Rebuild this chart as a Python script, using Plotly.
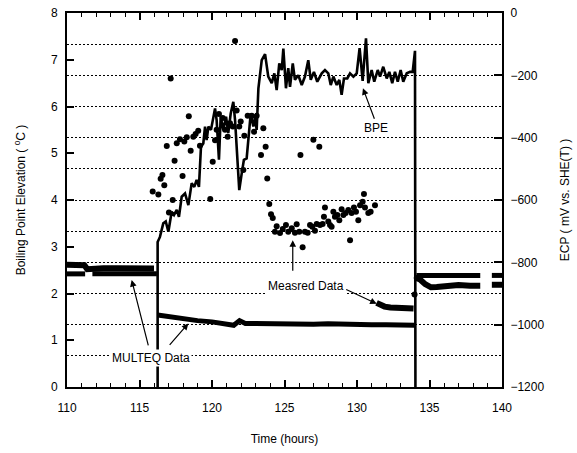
import plotly.graph_objects as go

# ---------------- data ----------------
# Boiling point elevation (deg C, left axis)
bpe_time = [116.25, 116.25, 116.41, 116.64, 116.81, 116.99, 117.22, 117.38, 117.57, 117.72,
            117.91, 118.14, 118.37, 118.60, 118.78, 118.94, 119.10, 119.24, 119.40, 119.52,
            119.63, 119.75, 119.93, 120.09, 120.21, 120.32, 120.48, 120.60, 120.78, 120.97,
            121.12, 121.29, 121.47, 121.59, 121.70, 121.88, 122.05, 122.20, 122.39, 122.50,
            122.67, 122.85, 122.97, 123.08, 123.20, 123.43, 123.66, 123.88, 124.12, 124.30,
            124.46, 124.64, 124.81, 124.92, 125.10, 125.26, 125.38, 125.57, 125.72, 125.95,
            126.19, 126.41, 126.64, 126.81, 127.03, 127.26, 127.57, 127.79, 128.02, 128.19,
            128.37, 128.60, 128.78, 128.94, 129.10, 129.33, 129.52, 129.75, 129.98, 130.18,
            130.39, 130.62, 130.78, 131.01, 131.19, 131.43, 131.59, 131.81, 132.05, 132.23,
            132.43, 132.62, 132.81, 133.01, 133.19, 133.43, 133.66, 133.84, 134.00, 134.03]
bpe_value = [0.00, 3.10, 3.21, 3.50, 3.54, 3.32, 3.75, 3.68, 3.79, 3.64,
             4.07, 4.14, 3.89, 4.36, 4.28, 4.43, 4.28, 5.14, 5.21, 5.57,
             5.28, 5.57, 5.50, 5.75, 5.96, 5.71, 4.86, 5.78, 5.50, 5.78,
             5.43, 5.85, 6.10, 5.71, 5.07, 4.21, 4.57, 4.86, 4.89, 5.35,
             5.85, 5.57, 5.78, 5.50, 6.39, 6.99, 7.12, 6.64, 6.50, 6.71,
             6.35, 6.92, 6.78, 7.24, 6.39, 6.82, 6.42, 6.92, 6.57, 6.67,
             6.46, 6.64, 6.99, 6.57, 6.74, 6.53, 6.71, 6.78, 6.71, 6.46,
             6.64, 6.46, 6.57, 6.25, 6.60, 6.60, 6.71, 6.64, 6.71, 7.25,
             6.55, 7.46, 6.50, 6.78, 6.53, 6.78, 6.64, 6.85, 6.60, 6.74,
             6.50, 6.74, 6.53, 6.78, 6.53, 6.71, 6.74, 6.74, 7.19, 0.00]

# Measured ECP (mV vs. SHE(T), right axis) - individual readings
meas_time = [115.91, 116.30, 116.46, 116.58, 116.71, 116.88, 117.03, 117.15, 117.29, 117.42,
             117.57, 117.79, 117.97, 118.09, 118.26, 118.40, 118.53, 118.71, 118.87, 119.05,
             119.17, 119.88, 120.05, 120.21, 120.32, 120.48, 120.74, 120.90, 121.08, 121.24,
             121.43, 121.59, 121.70, 121.88, 121.98, 122.16, 122.23, 122.46, 122.74, 122.90,
             123.08, 123.38, 123.54, 123.70, 123.81, 123.95, 124.07, 124.19, 124.34, 124.46,
             124.69, 124.88, 125.10, 125.26, 125.50, 125.72, 125.84, 126.02, 126.10, 126.25,
             126.41, 126.60, 126.76, 126.92, 126.99, 127.10, 127.22, 127.40, 127.45, 127.63,
             127.72, 127.79, 128.02, 128.14, 128.25, 128.37, 128.48, 128.64, 128.78, 128.94,
             129.06, 129.22, 129.40, 129.52, 129.63, 129.79, 129.93, 130.09, 130.21, 130.39,
             130.48, 130.55, 130.78, 130.94, 131.24, 133.97, 134.12]
meas_ecp = [-573, -582, -532, -520, -553, -427, -640, -210, -600, -474,
            -418, -405, -523, -412, -399, -331, -442, -397, -388, -378,
            -426, -597, -477, -408, -375, -324, -337, -375, -397, -354,
            -364, -90, -313, -364, -348, -504, -394, -330, -330, -381,
            -330, -456, -370, -429, -531, -613, -646, -658, -702, -684,
            -706, -693, -680, -702, -691, -705, -678, -702, -456, -752,
            -702, -705, -680, -686, -407, -699, -677, -429, -680, -677,
            -654, -624, -669, -680, -686, -638, -654, -648, -665, -630,
            -648, -642, -632, -729, -642, -624, -638, -665, -617, -606,
            -581, -624, -642, -638, -617, -903, -850]

# Measured ECP - continuously logged stretches
meas_run_time = [110.0, 110.6, 111.2, 111.4, 111.7, 112.5, 113.5, 114.5, 115.5, 116.0, None,
                 131.35, 131.6, 131.9, 132.3, 132.8, 133.4, 133.9, None,
                 134.1, 134.35, 134.7, 135.1, 135.5, 136.2, 137.0, 137.8, 138.5, None,
                 139.3, 140.0]
meas_run_ecp = [-808, -808, -809, -822, -820, -819, -819, -820, -820, -820, None,
                -930, -936, -942, -945, -947, -948, -948, None,
                -850, -855, -870, -880, -879, -875, -873, -875, -875, None,
                -872, -872]

# MULTEQ calculated ECP (mV vs. SHE(T))
multeq_time = [110.0, 111.25, None, 111.75, 113.0, 114.5, 116.2, None,
               116.25, 117.0, 118.0, 119.0, 120.0, 121.0, 121.5, 121.9, 122.3, 123.0,
               124.0, 125.0, 126.0, 127.0, 128.0, 129.0, 130.0, 131.0, 132.0, 133.0, 134.0, None,
               134.1, 135.0, 136.5, 138.5, None, 139.3, 140.0]
multeq_ecp = [-837, -837, None, -837, -836, -837, -837, None,
              -969, -975, -981, -987, -991, -996, -1002, -987, -996, -996,
              -997, -1000, -999, -999, -997, -999, -1000, -1000, -1000, -1002, -1002, None,
              -842, -842, -842, -842, None, -842, -842]

FONT = "Liberation Sans, Arial, sans-serif"
INK = "black"

fig = go.Figure()

fig.add_trace(go.Scatter(x=multeq_time, y=multeq_ecp, yaxis="y2", mode="lines",
                         line=dict(color=INK, width=5), name="MULTEQ", connectgaps=False))
fig.add_trace(go.Scatter(x=meas_run_time, y=meas_run_ecp, yaxis="y2", mode="lines",
                         line=dict(color=INK, width=6), name="Measured (logged)", connectgaps=False))
fig.add_trace(go.Scatter(x=meas_time, y=meas_ecp, yaxis="y2", mode="markers",
                         marker=dict(color=INK, size=6, symbol="circle"), name="Measured"))
fig.add_trace(go.Scatter(x=bpe_time, y=bpe_value, yaxis="y", mode="lines",
                         line=dict(color=INK, width=2.6), name="BPE"))

# ---------------- annotations ----------------
arrow = dict(showarrow=True, arrowhead=2, arrowsize=1.1, arrowwidth=1.2,
             arrowcolor=INK, text="", xref="x", yref="y")
notes = [
    dict(x=130.41, y=6.39, ax=12, ay=32, **arrow),
    dict(x=125.57, y=3.14, ax=0, ay=32, **arrow),
    dict(x=131.36, y=1.78, ax=-32, ay=-15, **arrow),
    dict(x=114.46, y=2.29, ax=17, ay=67, **arrow),
    dict(x=118.37, y=1.36, ax=-20, ay=23, **arrow),
]
label = dict(showarrow=False, xref="x", yref="y", bgcolor="white",
             font=dict(family=FONT, size=12, color=INK), borderpad=1)
notes += [
    dict(x=131.31, y=5.54, text="BPE", **label),
    dict(x=126.48, y=2.16, text="Measred Data", **label),
    dict(x=115.77, y=0.63, text="MULTEQ Data", **label),
]

dot_dash = "2px,2px"

fig.update_layout(
    width=577, height=453,
    margin=dict(l=67, r=75, t=13, b=66),
    paper_bgcolor="white", plot_bgcolor="white",
    showlegend=False,
    font=dict(family=FONT, size=12, color=INK),
    annotations=notes,
    xaxis=dict(
        range=[110, 140], dtick=5, tick0=110,
        ticks="inside", ticklen=7, tickwidth=1.5, tickcolor=INK,
        minor=dict(dtick=1, ticks="inside", ticklen=4, tickwidth=1, tickcolor=INK),
        showline=True, linewidth=2, linecolor=INK, mirror="ticks",
        showgrid=False, zeroline=False, ticklabelstandoff=9, automargin=False,
        title=dict(text="Time (hours)", standoff=20, font=dict(size=12)),
        tickfont=dict(size=12),
    ),
    yaxis=dict(
        range=[0, 8], dtick=1,
        ticks="inside", ticklen=7, tickwidth=1.5, tickcolor=INK,
        showline=True, linewidth=2, linecolor=INK,
        showgrid=False, zeroline=False, ticklabelstandoff=5, automargin=False,
        title=dict(text="Boiling Point Elevation ( <sup>o</sup>C )", standoff=23, font=dict(size=12)),
        tickfont=dict(size=12),
    ),
    yaxis2=dict(
        range=[-1200, 0], dtick=200, overlaying="y", side="right",
        ticks="inside", ticklen=8, tickwidth=1.5, tickcolor=INK,
        showline=True, linewidth=2, linecolor=INK,
        showgrid=True, gridcolor=INK, gridwidth=1, griddash=dot_dash,
        minor=dict(dtick=100, showgrid=True, gridcolor=INK, gridwidth=1, griddash=dot_dash),
        zeroline=False, ticklabelstandoff=4, automargin=False,
        title=dict(text="ECP ( mV vs. SHE(T) )", standoff=17, font=dict(size=12)),
        tickfont=dict(size=12),
    ),
)

fig.write_html("out.html")
